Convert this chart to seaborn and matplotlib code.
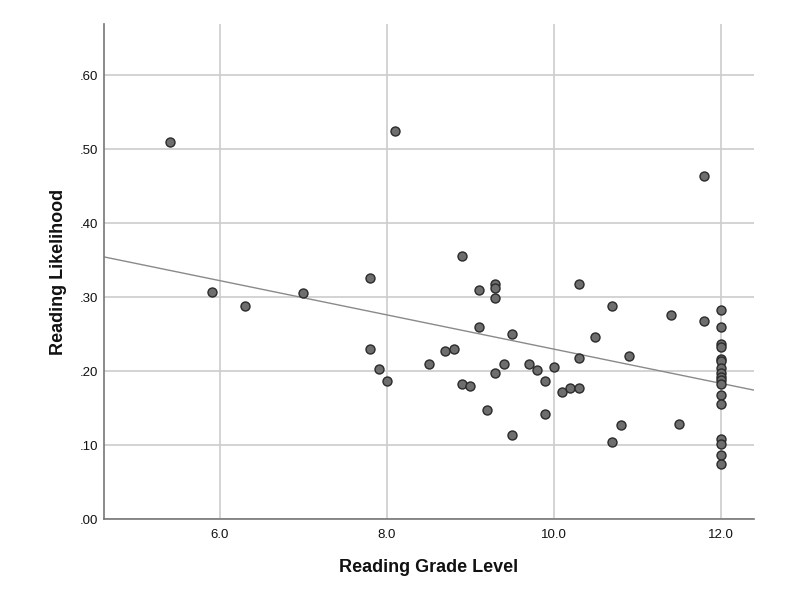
import matplotlib
matplotlib.use("Agg")
import matplotlib.pyplot as plt
import seaborn as sns
import pandas as pd
from matplotlib.ticker import FuncFormatter

grade = [5.4, 5.9, 6.3, 7.0, 8.1, 7.8, 7.8, 7.9, 8.0, 8.5, 8.7, 8.8, 8.9, 8.9,
         9.0, 9.1, 9.1, 9.2, 9.3, 9.3, 9.3, 9.3, 9.4, 9.5, 9.5, 9.7, 9.8, 9.9,
         9.9, 10.0, 10.1, 10.2, 10.3, 10.3, 10.3, 10.5, 10.7, 10.7, 10.8, 10.9,
         11.4, 11.5, 11.8, 11.8,
         12.0, 12.0, 12.0, 12.0, 12.0, 12.0, 12.0, 12.0, 12.0, 12.0, 12.0,
         12.0, 12.0, 12.0, 12.0, 12.0, 12.0]
likelihood = [0.509, 0.307, 0.288, 0.306, 0.524, 0.326, 0.230, 0.203, 0.186,
              0.210, 0.227, 0.230, 0.355, 0.182, 0.180, 0.310, 0.259, 0.147,
              0.317, 0.312, 0.299, 0.197, 0.209, 0.250, 0.114, 0.209, 0.201,
              0.186, 0.142, 0.205, 0.172, 0.177, 0.177, 0.318, 0.218, 0.246,
              0.288, 0.104, 0.127, 0.221, 0.276, 0.129, 0.464, 0.268,
              0.283, 0.259, 0.237, 0.233, 0.216, 0.213, 0.204, 0.197, 0.192,
              0.188, 0.182, 0.167, 0.156, 0.108, 0.102, 0.086, 0.075]

x_ticks = [6.0, 8.0, 10.0, 12.0]
y_ticks = [0.0, 0.1, 0.2, 0.3, 0.4, 0.5, 0.6]

df = pd.DataFrame({"Reading Grade Level": grade, "Reading Likelihood": likelihood})

sns.set_style("white")
plt.rcParams["font.family"] = ["Liberation Sans", "DejaVu Sans"]

fig = plt.figure(figsize=(7.99, 6.05), dpi=100)
ax = fig.add_axes([0.1302, 0.1421, 0.8135, 0.8182])
ax.set_xlim(4.61, 12.40)
ax.set_ylim(0, 0.669)

ax.set_xticks(x_ticks)
ax.set_yticks(y_ticks)
ax.grid(True, color="#cccccc", linewidth=1.2)
ax.set_axisbelow(True)

sns.regplot(data=df, x="Reading Grade Level", y="Reading Likelihood", ax=ax,
            ci=None, truncate=False,
            scatter_kws=dict(s=42, color="#6e6e6e", edgecolor="#2a2a2a",
                             linewidths=1.0, alpha=1, zorder=3),
            line_kws=dict(color="#8a8a8a", linewidth=1.0, zorder=2))
ax.set_xlim(4.61, 12.40)
ax.set_ylim(0, 0.669)

ax.xaxis.set_major_formatter(FuncFormatter(lambda v, p: f"{v:.1f}"))
ax.yaxis.set_major_formatter(FuncFormatter(lambda v, p: f"{v:.2f}"[1:] if v < 1 else f"{v:.2f}"))
ax.tick_params(axis="both", length=0, labelsize=9.5, colors="#111111")
ax.tick_params(axis="y", pad=4)
ax.tick_params(axis="x", pad=7)

for s in ["top", "right"]:
    ax.spines[s].set_visible(False)
for s in ["left", "bottom"]:
    ax.spines[s].set_color("#777777")
    ax.spines[s].set_linewidth(1.2)

ax.set_xlabel("Reading Grade Level", fontsize=13, fontweight="bold", labelpad=13, color="#111111")
ax.set_ylabel("Reading Likelihood", fontsize=13, fontweight="bold", labelpad=9, color="#111111")

fig.savefig("out.png", dpi=100)
